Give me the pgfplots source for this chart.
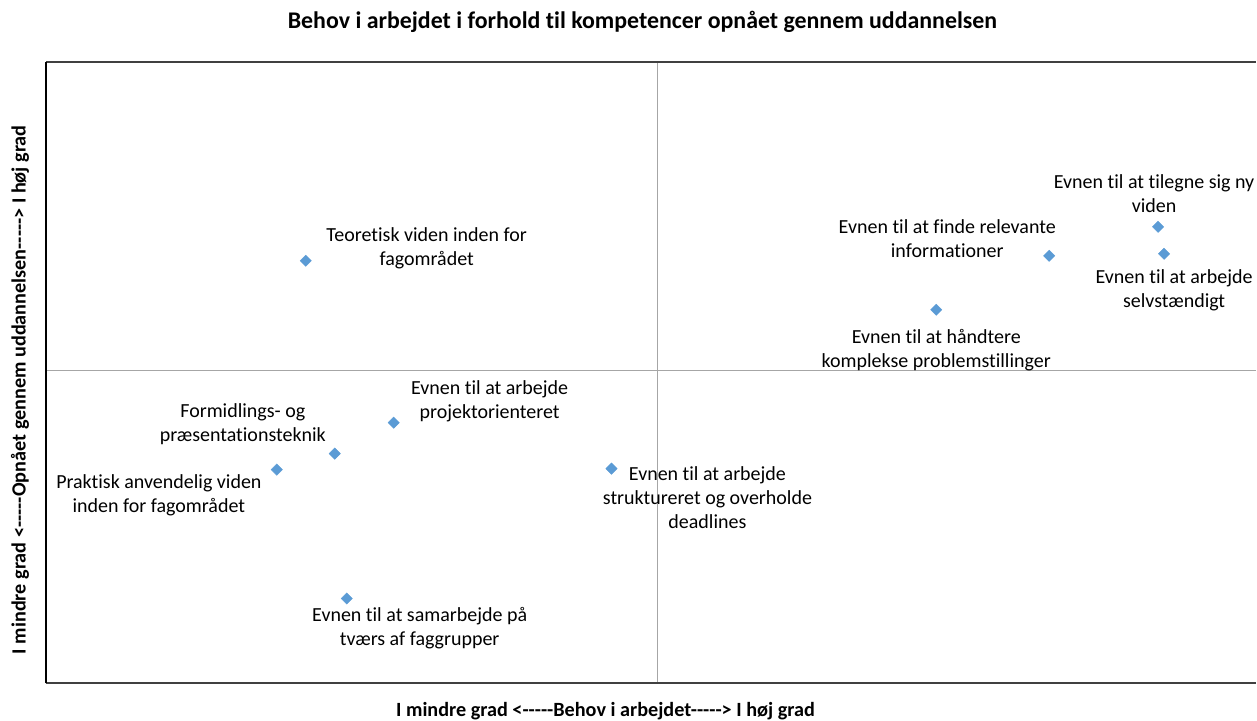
\documentclass[border=0pt]{standalone}
\usepackage{pgfplots}
\pgfplotsset{compat=1.18}
\usepackage{fontspec}
\setmainfont{Carlito}[Ligatures=CommonOff]
\definecolor{pt}{HTML}{5B9BD5}
\definecolor{quad}{HTML}{A6A6A6}
\definecolor{frame}{HTML}{404040}
\begin{document}
\begin{tikzpicture}
\begin{axis}[
  at={(46bp,36bp)}, anchor=south west,
  scale only axis, width=1211bp, height=622bp,
  xmin=46, xmax=1257, ymin=36, ymax=658,
  axis lines=none, ticks=none, clip=false,
]
\addplot[only marks, mark=square*, mark size=4bp, mark options={rotate=45}, color=pt] coordinates {
 (306,459) (1159,493) (1050,464) (1165,466) (937,410)
 (394,297) (335,266) (277,250) (612,251) (347,121)
};
% frame and quadrant lines
\draw[quad, line width=1bp] (axis cs:658,36) -- (axis cs:658,658);
\draw[quad, line width=1bp] (axis cs:46,349) -- (axis cs:1257,349);
\draw[frame, line width=2bp] (axis cs:46,658) -- (axis cs:1257,658);
\draw[frame, line width=2bp] (axis cs:46,36) -- (axis cs:1257,36);
\draw[black, line width=1.5bp] (axis cs:46,36) -- (axis cs:46,658);
% bounding box
\path (axis cs:0,0) rectangle (axis cs:1257,720);
% labels
\begin{scope}[every node/.style={font=\fontsize{20bp}{24bp}\selectfont, align=center, inner sep=0pt}]
\node at (axis cs:427,472) {Teoretisk viden inden for\\fagområdet};
\node at (axis cs:1155,526) {Evnen til at tilegne sig ny\\viden};
\node at (axis cs:948,481) {Evnen til at finde relevante\\informationer};
\node at (axis cs:1175,429) {Evnen til at arbejde\\selvstændigt};
\node at (axis cs:937,370) {Evnen til at håndtere\\komplekse problemstillinger};
\node at (axis cs:490,318) {Evnen til at arbejde\\projektorienteret};
\node at (axis cs:243,295) {Formidlings- og\\præsentationsteknik};
\node at (axis cs:159,224) {Praktisk anvendelig viden\\inden for fagområdet};
\node at (axis cs:708,222) {Evnen til at arbejde\\struktureret og overholde\\deadlines};
\node at (axis cs:420,91) {Evnen til at samarbejde på\\tværs af faggrupper};
\end{scope}
\node[font=\fontsize{23.9bp}{26bp}\selectfont\bfseries, inner sep=0pt] at (axis cs:643,698) {Behov i arbejdet i forhold til kompetencer opnået gennem uddannelsen};
\node[font=\fontsize{20.2bp}{22bp}\selectfont\bfseries, inner sep=0pt] at (axis cs:606,8) {I mindre grad <{-}{-}{-}{-}{-}Behov i arbejdet{-}{-}{-}{-}{-}> I høj grad};
\node[font=\fontsize{20.2bp}{22bp}\selectfont\bfseries, inner sep=0pt, rotate=90] at (axis cs:20,330) {I mindre grad <{-}{-}{-}{-}{-}Opnået gennem uddannelsen{-}{-}{-}{-}{-}> I høj grad};
\end{axis}
\end{tikzpicture}
\end{document}
